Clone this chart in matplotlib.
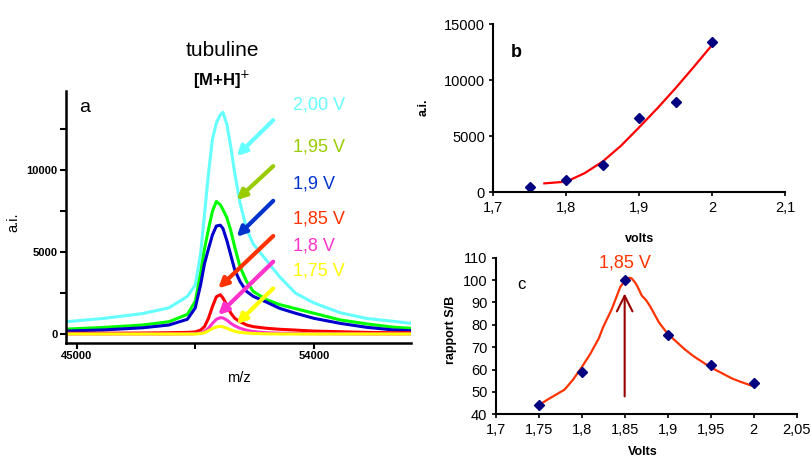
"""
tubuline [M+H]+ spectra vs voltage, intensity and S/B ratio
"""

import matplotlib
matplotlib.use("Agg")
import matplotlib.pyplot as plt
from matplotlib.ticker import FuncFormatter, MultipleLocator, FixedLocator

plt.rcParams["font.family"] = ["Liberation Sans", "DejaVu Sans"]

# --- panel a: spectra (m/z vs a.i.), one trace per voltage
mz = [44600, 46000, 47500, 48500, 49200, 49500, 49700, 49850, 50000, 50150,
      50300, 50450, 50550, 50700, 50850, 51000, 51200, 51450, 51700, 52200,
      52700, 53300, 54000, 55000, 56000, 57000, 57700]
spec_200 = [750, 950, 1250, 1600, 2300, 3000, 4900, 7300, 9800, 11900,
            12900, 13400, 13550, 12800, 11400, 9800, 8000, 6400, 5500, 4500,
            3500, 2500, 1900, 1300, 950, 780, 650]
spec_195 = [300, 400, 550, 750, 1200, 2000, 3700, 5200, 6400, 7500,
            8100, 7900, 7600, 7100, 6300, 5300, 4100, 3200, 2600, 2100,
            1800, 1550, 1270, 860, 620, 420, 350]
spec_190 = [180, 250, 380, 550, 900, 1600, 3000, 4300, 5200, 6050,
            6600, 6650, 6450, 5700, 4800, 3900, 3200, 2600, 2300, 1950,
            1570, 1270, 960, 650, 410, 250, 200]
spec_185 = [50, 50, 60, 80, 100, 130, 240, 450, 960, 1670,
            2280, 2400, 2200, 1770, 1270, 960, 750, 550, 450, 350,
            290, 240, 180, 140, 100, 80, 80]
spec_180 = [0, 0, 0, 0, 10, 20, 60, 150, 350, 650,
            900, 1000, 980, 850, 650, 500, 350, 230, 150, 80,
            50, 30, 20, 10, 0, 0, 0]
spec_175 = [0, 0, 0, 0, 0, 0, 30, 80, 200, 330,
            430, 470, 440, 350, 250, 160, 100, 60, 30, 10,
            0, 0, 0, 0, 0, 0, 0]

spectra = [spec_200, spec_195, spec_190, spec_185, spec_180, spec_175]
volt_labels = ["2,00 V", "1,95 V", "1,9 V", "1,85 V", "1,8 V", "1,75 V"]
line_colors = ["#66FFFF", "#00FF00", "#0000CC", "#FF0000", "#FF33CC", "#FFFF00"]
label_colors = ["#66FFFF", "#99CC00", "#0033CC", "#FF3300", "#FF33CC", "#FFFF00"]

# --- panel b: intensity vs volts
volts_b = [1.75, 1.80, 1.85, 1.90, 1.95, 2.00]
ai_b = [500, 1100, 2400, 6600, 8100, 13400]
fit_x_b = [1.77, 1.80, 1.825, 1.85, 1.875, 1.90, 1.925, 1.95, 1.975, 2.00]
fit_y_b = [800, 950, 1700, 2750, 4150, 5800, 7500, 9300, 11200, 13150]

# --- panel c: S/B ratio vs volts
volts_c = [1.75, 1.80, 1.85, 1.90, 1.95, 2.00]
sb_c = [44, 59, 100, 75.5, 62, 54]
fit_x_c = [1.75, 1.76, 1.78, 1.79, 1.80, 1.81, 1.82, 1.825, 1.835, 1.84,
           1.845, 1.85, 1.855, 1.858, 1.862, 1.865, 1.87, 1.875, 1.88, 1.89,
           1.90, 1.91, 1.92, 1.93, 1.95, 1.96, 1.975, 1.985, 2.00]
fit_y_c = [44, 46.5, 51, 55.5, 61, 67, 74, 79, 87, 92,
           97, 99.5, 101, 100.8, 99, 97, 93, 91, 88, 81,
           76, 72.5, 69, 66, 61, 59, 56, 54.5, 52.5]

comma = FuncFormatter(lambda v, p: ("%g" % v).replace(".", ","))

fig = plt.figure(figsize=(8.12, 4.59), dpi=100)

# panel a
ax = fig.add_axes([0.0809, 0.2527, 0.4251, 0.549])
for y, c in zip(spectra, line_colors):
    ax.plot(mz, y, color=c, lw=2.2)
ax.set_xlim(44583, 57680)
ax.set_ylim(-550, 14850)
for s in ("top", "right"):
    ax.spines[s].set_visible(False)
for s in ("left", "bottom"):
    ax.spines[s].set_linewidth(1.8)
ax.xaxis.set_major_locator(FixedLocator([45000, 54000]))
ax.xaxis.set_minor_locator(FixedLocator([49500]))
ax.yaxis.set_major_locator(FixedLocator([0, 5000, 10000]))
ax.yaxis.set_minor_locator(FixedLocator([2500, 7500, 12500]))
ax.tick_params(which="both", direction="out", length=4, width=1.5, pad=2)
for lab in ax.get_xticklabels() + ax.get_yticklabels():
    lab.set_fontsize(8)
    lab.set_fontweight("bold")
ax.set_xlabel("m/z", fontsize=10.5)
ax.set_ylabel("a.i.", fontsize=10.5)
ax.xaxis.set_label_coords(0.502, -0.111)
ax.yaxis.set_label_coords(-0.132, 0.48)
ax.text(0.04, 0.933, "a", transform=ax.transAxes, fontsize=14, va="center")

# voltage labels and arrows
label_y = [105, 147, 184, 219, 246, 271]
arrow_from = [(52457, 13070), (52457, 10260), (52457, 8140),
              (52457, 5990), (52457, 4420), (52457, 2790)]
arrow_to = [(51069, 10870), (51069, 8190), (51069, 5940),
            (50371, 2790), (50371, 1160), (51069, 610)]
for i in range(6):
    fig.text(293 / 812, 1 - label_y[i] / 459, volt_labels[i], color=label_colors[i],
             fontsize=13, va="center", ha="left")
    ax.annotate("", xy=arrow_to[i], xytext=arrow_from[i],
                arrowprops=dict(arrowstyle="-|>", color=label_colors[i], lw=3,
                                mutation_scale=14, shrinkA=0, shrinkB=0))

fig.text(222 / 812, 1 - 50 / 459, "tubuline", fontsize=15, ha="center", va="center")
fig.text(222 / 812, 1 - 80 / 459, "[M+H]$^{+}$", fontsize=12, ha="center",
         va="center", fontweight="bold")

# panel b
bx = fig.add_axes([0.6075, 0.581, 0.3592, 0.366])
bx.plot(fit_x_b, fit_y_b, color="#FF0000", lw=1.6)
bx.plot(volts_b, ai_b, "D", color="#000080", ms=5.5)
bx.set_xlim(1.7, 2.1)
bx.set_ylim(0, 15000)
bx.xaxis.set_major_locator(MultipleLocator(0.1))
bx.yaxis.set_major_locator(MultipleLocator(5000))
bx.xaxis.set_major_formatter(comma)
for s in ("top", "right"):
    bx.spines[s].set_visible(False)
for s in ("left", "bottom"):
    bx.spines[s].set_linewidth(1.5)
bx.tick_params(direction="out", length=3, width=1.2, labelsize=10.5, pad=3)
bx.set_xlabel("volts", fontsize=9, fontweight="bold")
bx.set_ylabel("a.i.", fontsize=9, fontweight="bold")
bx.xaxis.set_label_coords(0.502, -0.242)
bx.yaxis.set_label_coords(-0.217, 0.508)
bx.text(0.06, 0.83, "b", transform=bx.transAxes, fontsize=13, fontweight="bold",
        va="center")

# panel c
cx = fig.add_axes([0.6105, 0.0974, 0.3705, 0.3412])
cx.plot(fit_x_c, fit_y_c, color="#FF3300", lw=1.6)
cx.plot(volts_c, sb_c, "D", color="#000080", ms=5.5)
cx.set_xlim(1.7, 2.05)
cx.set_ylim(40, 110)
cx.xaxis.set_major_locator(MultipleLocator(0.05))
cx.yaxis.set_major_locator(MultipleLocator(10))
cx.xaxis.set_major_formatter(comma)
for s in ("top", "right"):
    cx.spines[s].set_visible(False)
for s in ("left", "bottom"):
    cx.spines[s].set_linewidth(1.5)
cx.tick_params(direction="out", length=3, width=1.2, labelsize=10.5, pad=3)
cx.set_xlabel("Volts", fontsize=9, fontweight="bold")
cx.set_ylabel("rapport S/B", fontsize=9, fontweight="bold")
cx.xaxis.set_label_coords(0.49, -0.205)
cx.yaxis.set_label_coords(-0.129, 0.538)
cx.text(0.07, 0.83, "c", transform=cx.transAxes, fontsize=12, va="center")
cx.annotate("", xy=(1.85, 94), xytext=(1.85, 48),
            arrowprops=dict(arrowstyle="->", color="#990000", lw=1.5,
                            mutation_scale=28, shrinkA=0, shrinkB=0))
cx.text(1.8504, 107.5, "1,85 V", color="#FF3300", fontsize=13, ha="center",
        va="center", clip_on=False)

fig.savefig("out.png", dpi=100)
